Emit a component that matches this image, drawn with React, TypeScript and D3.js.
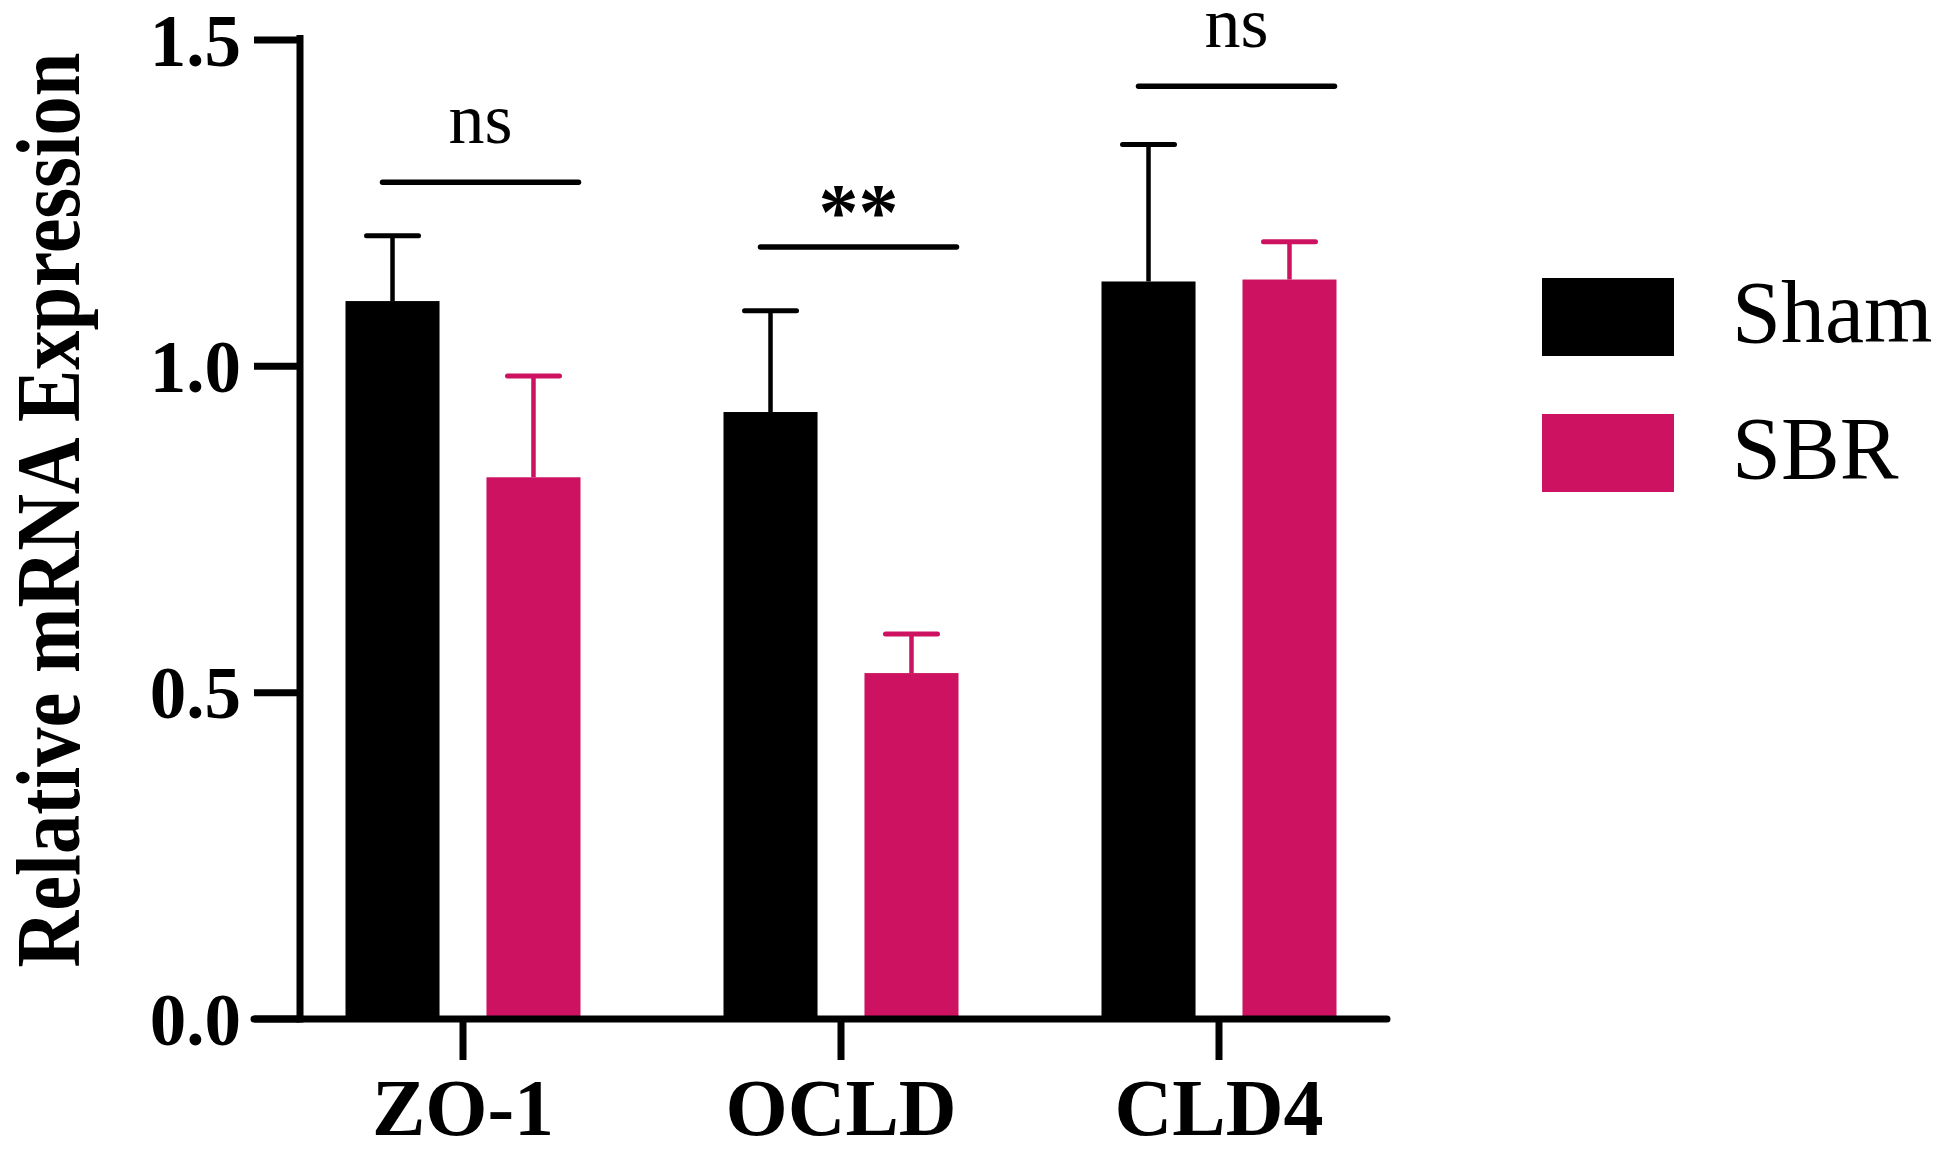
import React from "react";
import * as d3 from "d3";

const categories = ["ZO-1", "OCLD", "CLD4"];
const seriesNames = ["Sham", "SBR"];
const shamMeans = [1.1, 0.93, 1.13];
const shamSD = [0.1, 0.155, 0.21];
const sbrMeans = [0.83, 0.53, 1.133];
const sbrSD = [0.155, 0.06, 0.058];
const yTicks = [0, 0.5, 1.0, 1.5];
const sigLabels = ["ns", "**", "ns"];
const sigLevels = [1.282, 1.183, 1.429];
const colors = ["#000000", "#cc1260"];

const W = 1950;
const H = 1152;
const FONT = "'Liberation Serif', 'Times New Roman', Times, serif";

export default function App() {
  const y = d3.scaleLinear().domain([0, 1.5]).range([1019, 40]);
  const x = d3.scaleBand<string>().domain(categories).range([274, 1408]).padding(0);
  const xs = d3
    .scaleBand<string>()
    .domain(seriesNames)
    .range([-117.5, 117.5])
    .paddingInner(0.333)
    .paddingOuter(0);
  const bw = xs.bandwidth();
  const means = [shamMeans, sbrMeans];
  const sds = [shamSD, sbrSD];
  const axisLeft = 300;
  const axisRight = 1387;
  const y0 = y(0);
  const capW = 52;

  return (
    <svg
      width={W}
      height={H}
      style={{ position: "absolute", left: 0, top: 0, background: "#fff" }}
      fontFamily={FONT}
    >
      <rect x={0} y={0} width={W} height={H} fill="#fff" />
      {/* bars and error bars */}
      {categories.map((c, ci) => {
        const cx = (x(c) as number) + x.bandwidth() / 2;
        return (
          <g key={c}>
            {seriesNames.map((s, si) => {
              const bx = cx + (xs(s) as number);
              const m = means[si][ci];
              const sd = sds[si][ci];
              const mid = bx + bw / 2;
              return (
                <g key={s}>
                  <rect x={bx} y={y(m)} width={bw} height={y0 - y(m)} fill={colors[si]} />
                  <line x1={mid} x2={mid} y1={y(m)} y2={y(m + sd)} stroke={colors[si]} strokeWidth={4.5} />
                  <line
                    x1={mid - capW / 2}
                    x2={mid + capW / 2}
                    y1={y(m + sd)}
                    y2={y(m + sd)}
                    stroke={colors[si]}
                    strokeWidth={5}
                    strokeLinecap="round"
                  />
                </g>
              );
            })}
          </g>
        );
      })}
      {/* significance */}
      {categories.map((c, ci) => {
        const cx = (x(c) as number) + x.bandwidth() / 2;
        const blackMid = cx + (xs("Sham") as number) + bw / 2;
        const pinkRight = cx + (xs("SBR") as number) + bw;
        const x1 = blackMid - 10;
        const x2 = pinkRight - 2;
        const ly = y(sigLevels[ci]);
        const isStar = sigLabels[ci] === "**";
        return (
          <g key={"sig" + c}>
            <line x1={x1} x2={x2} y1={ly} y2={ly} stroke="#000" strokeWidth={5.5} strokeLinecap="round" />
            <text
              x={(x1 + x2) / 2}
              y={isStar ? ly - 8 : ly - 39}
              textAnchor="middle"
              fontSize={isStar ? 80 : 72}
              fontWeight={isStar ? "bold" : "normal"}
              fill="#000"
            >
              {sigLabels[ci]}
            </text>
          </g>
        );
      })}
      {/* axes */}
      <line x1={axisLeft} x2={axisLeft} y1={35} y2={y0 + 3.5} stroke="#000" strokeWidth={7} />
      <line x1={254} x2={axisRight} y1={y0} y2={y0} stroke="#000" strokeWidth={7} strokeLinecap="round" />
      {yTicks.map((t) => (
        <g key={t}>
          <line x1={254} x2={axisLeft} y1={y(t)} y2={y(t)} stroke="#000" strokeWidth={7} />
          <text
            x={241}
            y={y(t)}
            dy="0.35em"
            textAnchor="end"
            fontSize={73}
            fontWeight="bold"
            fill="#000"
          >
            {d3.format(".1f")(t)}
          </text>
        </g>
      ))}
      {categories.map((c) => {
        const cx = (x(c) as number) + x.bandwidth() / 2;
        return (
          <g key={"xt" + c}>
            <line x1={cx} x2={cx} y1={y0} y2={1060} stroke="#000" strokeWidth={7} />
            <text x={cx} y={1135} textAnchor="middle" fontSize={80} fontWeight="bold" fill="#000">
              {c}
            </text>
          </g>
        );
      })}
      {/* y title */}
      <text
        transform={`translate(79, 510) rotate(-90)`}
        textAnchor="middle"
        fontSize={92}
        fontWeight="bold"
        fill="#000"
        textLength={915}
        lengthAdjust="spacingAndGlyphs"
      >
        Relative mRNA Expression
      </text>
      {/* legend */}
      {seriesNames.map((s, si) => (
        <g key={"lg" + s}>
          <rect x={1542} y={278 + si * 136} width={132} height={78} fill={colors[si]} />
          <text x={1732} y={342 + si * 136} fontSize={88} fill="#000">
            {s}
          </text>
        </g>
      ))}
    </svg>
  );
}
